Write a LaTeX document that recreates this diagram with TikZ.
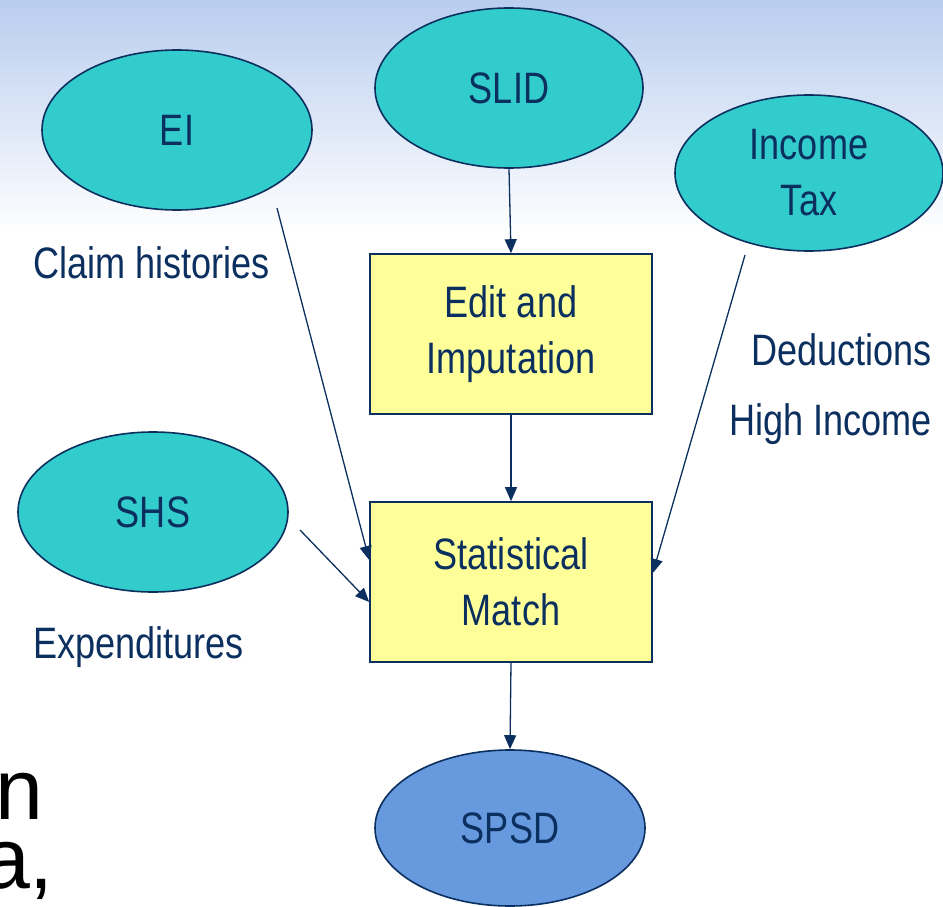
\documentclass[tikz,border=0pt]{standalone}
\usepackage{fontspec}
\setmainfont{Liberation Sans}
\newfontfamily\narrowfam[FakeStretch=0.82]{Liberation Sans}
\usetikzlibrary{shapes.geometric,arrows.meta}
\definecolor{navy}{HTML}{0B2F5E}
\definecolor{teal}{HTML}{33CCCC}
\definecolor{pale}{HTML}{FFFF99}
\definecolor{sky}{HTML}{6699DD}
\definecolor{bgtop}{HTML}{B9CDEF}
\begin{document}
\begin{tikzpicture}[x=1pt,y=-1pt,
  oval/.style={ellipse,draw=navy,line width=1.6pt,fill=teal,text=navy,align=center,inner sep=0pt},
  boxnode/.style={rectangle,draw=navy,line width=1.6pt,fill=pale,text=navy,align=center,inner sep=0pt,minimum width=282pt,minimum height=160pt},
  txt/.style={font=\narrowfam\fontsize{44}{56}\selectfont},
  lbl/.style={txt,text=navy,inner sep=0pt},
  arr/.style={draw=navy,line width=1.3pt,-{Triangle[length=14pt,width=12pt]}}]
\useasboundingbox (0,0) rectangle (943,907);
\shade[top color=bgtop,bottom color=white] (0,0) rectangle (943,235);
\node[oval,minimum width=270pt,minimum height=160pt,txt] (ei) at (177,130) {EI};
\node[oval,minimum width=268pt,minimum height=160pt,txt] (slid) at (509,88) {SLID};
\node[oval,minimum width=268pt,minimum height=156pt,txt] (it) at (809,173) {Income\\Tax};
\node[oval,minimum width=270pt,minimum height=160pt,txt] (shs) at (153,512) {SHS};
\node[oval,fill=sky,minimum width=270pt,minimum height=156pt,txt] (spsd) at (510,828) {SPSD};
\node[boxnode,txt] (edit) at (511,334) {Edit and\\Imputation};
\node[boxnode,txt] (sm) at (511,582) {Statistical\\Match};
\node[lbl,anchor=base west] (ch) at (33,278) {Claim histories};
\node[lbl,anchor=base east] (ded) at (932,365) {Deductions};
\node[lbl,anchor=base east] (hi) at (932,435) {High Income};
\node[lbl,anchor=base west] (exp) at (33,658) {Expenditures};
\node[anchor=base east,inner sep=0pt,font=\fontsize{86}{86}\selectfont] (nn) at (44,819) {n};
\node[anchor=base east,inner sep=0pt,font=\fontsize{86}{86}\selectfont] (aa) at (54,888) {a,};
\coordinate (eis) at (277,208);
\coordinate (shss) at (300,530);
\coordinate (its) at (745,255);
\draw[arr] (slid.south) -- (edit.north);
\draw[arr] (edit.south) -- (sm.north);
\draw[arr] (sm.south) -- (spsd.north);
\draw[arr] (eis) -- (sm.west |- 0,560);
\draw[arr] (shss) -- (sm.west |- 0,602);
\draw[arr] (its) -- (sm.east |- 0,573);
\end{tikzpicture}
\end{document}
